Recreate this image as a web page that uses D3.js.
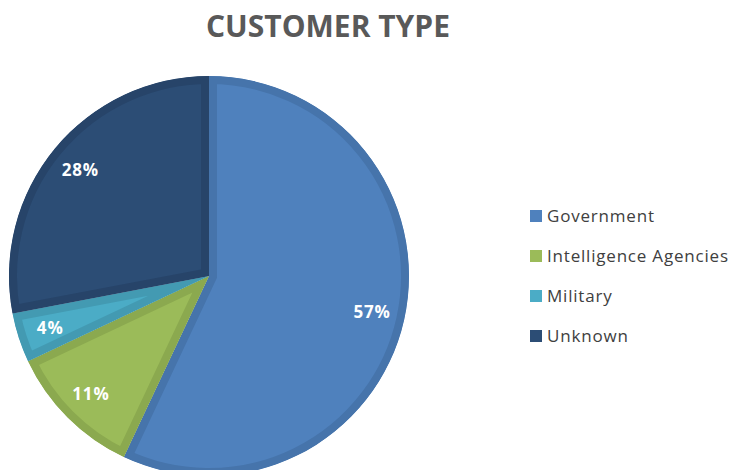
<!DOCTYPE html>
<html>
<head>
<meta charset="utf-8">
<script src="https://cdn.jsdelivr.net/npm/d3@7"></script>
<style>
  html, body { margin: 0; padding: 0; background: #fff; }
  svg { display: block; }
</style>
</head>
<body>
<svg id="chart" width="731" height="470"></svg>
<script>
// Customer type shares (percent)
const categories = ["Government", "Intelligence Agencies", "Military", "Unknown"];
const shares = [57, 11, 4, 28];
const fills = ["#4f81bd", "#9bbb59", "#4bacc6", "#2c4d75"];
const edges = ["#4674ab", "#8ba94f", "#439ab2", "#274469"];

const svg = d3.select("#chart");
const cx = 209, cy = 276, R = 200;

svg.append("text")
  .attr("x", 328).attr("y", 37)
  .attr("text-anchor", "middle")
  .attr("font-family", "'Open Sans', sans-serif")
  .attr("font-weight", 700)
  .attr("font-size", 30)
  .attr("fill", "#595959")
  .text("CUSTOMER TYPE");

const data = categories.map((c, i) => ({ name: c, value: shares[i], fill: fills[i], edge: edges[i] }));

const pie = d3.pie().value(d => d.value).sort(null);
const arcs = pie(data);
const arc = d3.arc().innerRadius(0).outerRadius(R);
const labelArc = d3.arc().innerRadius(167).outerRadius(167);

const defs = svg.append("defs");
const g = svg.append("g").attr("transform", `translate(${cx},${cy})`);

arcs.forEach((a, i) => {
  const id = "slice-clip-" + i;
  defs.append("clipPath").attr("id", id)
    .append("path").attr("d", arc(a));
  // slice body with a darker inner border (stroke clipped to the slice)
  g.append("path")
    .attr("d", arc(a))
    .attr("fill", a.data.fill)
    .attr("stroke", a.data.edge)
    .attr("stroke-width", 16)
    .attr("stroke-linejoin", "miter")
    .attr("clip-path", `url(#${id})`);
});

g.selectAll("text.pct")
  .data(arcs)
  .join("text")
  .attr("class", "pct")
  .attr("transform", d => `translate(${labelArc.centroid(d)})`)
  .attr("text-anchor", "middle")
  .attr("dy", "0.35em")
  .attr("font-family", "'Open Sans', sans-serif")
  .attr("font-weight", 700)
  .attr("font-size", 17)
  .attr("letter-spacing", 0.8)
  .attr("fill", "#ffffff")
  .text(d => d.data.value + "%");

// legend
const legend = svg.append("g").attr("transform", "translate(530,216)");
const rows = legend.selectAll("g").data(data).join("g")
  .attr("transform", (d, i) => `translate(0,${i * 40})`);
rows.append("rect")
  .attr("x", 0).attr("y", -6).attr("width", 12).attr("height", 12)
  .attr("fill", d => d.fill);
rows.append("text")
  .attr("x", 17).attr("y", 0).attr("dy", "0.35em")
  .attr("font-family", "'Open Sans', sans-serif")
  .attr("font-size", 17)
  .attr("letter-spacing", 0.8)
  .attr("fill", "#404040")
  .text(d => d.name);
</script>
</body>
</html>
